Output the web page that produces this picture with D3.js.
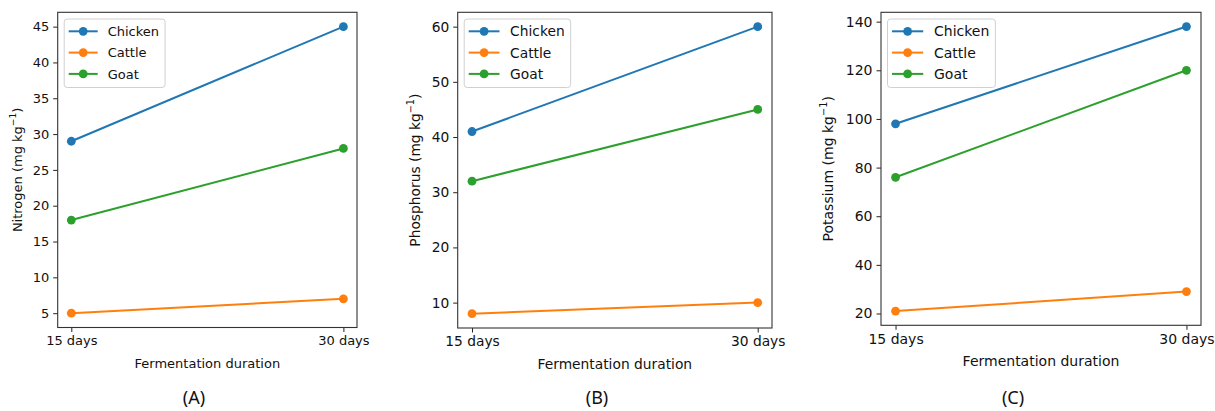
<!DOCTYPE html>
<html>
<head>
<meta charset="utf-8">
<script src="https://cdn.jsdelivr.net/npm/d3@7"></script>
<style>
  body { margin: 0; background: #fff; }
  svg { display: block; }
  text { font-family: "DejaVu Sans", sans-serif; fill: #111; }
</style>
</head>
<body>
<svg id="chart" width="1215" height="411"></svg>
<script>
// data
const durations = ["15 days", "30 days"];
const animals = ["Chicken", "Cattle", "Goat"];
const colors = ["#1f77b4", "#ff7f0e", "#2ca02c"];

const nitrogen = [[29, 45], [5, 7], [18, 28]];
const phosphorus = [[41, 60], [8, 10], [32, 45]];
const potassium = [[98, 138], [21, 29], [76, 120]];

const nitrogenTicks = [5, 10, 15, 20, 25, 30, 35, 40, 45];
const phosphorusTicks = [10, 20, 30, 40, 50, 60];
const potassiumTicks = [20, 40, 60, 80, 100, 120, 140];

// layout of the three panels (pixels)
const panels = [
    { values: nitrogen, ticks: nitrogenTicks, name: "Nitrogen", letter: "(A)",
      left: 57.7, right: 357, top: 12.3, bottom: 327.5, fs: 13,
      ylabelX: 17, xlabelY: 368, letterX: 194 },
    { values: phosphorus, ticks: phosphorusTicks, name: "Phosphorus", letter: "(B)",
      left: 457.7, right: 772, top: 12.3, bottom: 328, fs: 13.8,
      ylabelX: 415, xlabelY: 369, letterX: 597 },
    { values: potassium, ticks: potassiumTicks, name: "Potassium", letter: "(C)",
      left: 881, right: 1201, top: 12.3, bottom: 325.3, fs: 14,
      ylabelX: 828, xlabelY: 366, letterX: 1013 }
];

const svg = d3.select("#chart");

function drawPanel(p) {
    let g = svg.append("g");

    // matplotlib style 5% margins
    let all = p.values.flat();
    let lo = d3.min(all), hi = d3.max(all);
    let pad = (hi - lo) * 0.05;

    let x = d3.scalePoint()
        .domain(durations)
        .range([p.left, p.right])
        .padding(0.05);

    let y = d3.scaleLinear()
        .domain([lo - pad, hi + pad])
        .range([p.bottom, p.top]);

    // y axis
    let yAxis = g.append("g")
        .attr("transform", "translate(" + p.left + ",0)")
        .call(d3.axisLeft(y).tickValues(p.ticks).tickSize(4.5).tickPadding(4));
    // x axis
    let xAxis = g.append("g")
        .attr("transform", "translate(0," + p.bottom + ")")
        .call(d3.axisBottom(x).tickSize(4.5).tickPadding(4));

    [yAxis, xAxis].forEach(a => {
        a.select(".domain").remove();
        a.selectAll(".tick line").attr("stroke", "#222").attr("stroke-width", 1);
        a.selectAll(".tick text")
            .style("font-family", "DejaVu Sans")
            .style("font-size", p.fs + "px")
            .attr("fill", "#111");
    });

    // frame
    g.append("rect")
        .attr("x", p.left).attr("y", p.top)
        .attr("width", p.right - p.left).attr("height", p.bottom - p.top)
        .attr("fill", "none").attr("stroke", "#333").attr("stroke-width", 1.1);

    // lines
    let line = d3.line()
        .x((d, i) => x(durations[i]))
        .y(d => y(d));

    p.values.forEach((vals, k) => {
        g.append("path")
            .attr("d", line(vals))
            .attr("fill", "none")
            .attr("stroke", colors[k])
            .attr("stroke-width", 2);
        g.selectAll(null)
            .data(vals)
            .enter()
            .append("circle")
            .attr("cx", (d, i) => x(durations[i]))
            .attr("cy", d => y(d))
            .attr("r", 4.4)
            .attr("fill", colors[k]);
    });

    // legend
    let lx = p.left + 6.5, ly = p.top + 6.7;
    let leg = g.append("g");
    let box = leg.append("rect")
        .attr("x", lx).attr("y", ly)
        .attr("rx", 3).attr("ry", 3)
        .attr("height", 68.5)
        .attr("fill", "#fff").attr("fill-opacity", 0.8)
        .attr("stroke", "#d0d0d0").attr("stroke-width", 1);
    let maxW = 0;
    animals.forEach((name, k) => {
        let cy = ly + 12.3 + k * 21.3;
        leg.append("line")
            .attr("x1", lx + 4.5).attr("x2", lx + 4.5 + 29 * p.fs / 13)
            .attr("y1", cy).attr("y2", cy)
            .attr("stroke", colors[k]).attr("stroke-width", 2);
        leg.append("circle")
            .attr("cx", lx + 4.5 + 14.5 * p.fs / 13).attr("cy", cy)
            .attr("r", 4.4).attr("fill", colors[k]);
        let t = leg.append("text")
            .attr("x", lx + 4.5 + 39 * p.fs / 13).attr("y", cy)
            .attr("dy", "0.36em")
            .style("font-size", p.fs + "px")
            .text(name);
        maxW = Math.max(maxW, t.node().getComputedTextLength());
    });
    box.attr("width", 4.5 + 39 * p.fs / 13 + maxW + 6);

    // axis labels
    g.append("text")
        .attr("x", (p.left + p.right) / 2)
        .attr("y", p.xlabelY)
        .attr("text-anchor", "middle")
        .style("font-size", p.fs + "px")
        .text("Fermentation duration");

    let yl = g.append("text")
        .attr("transform", "translate(" + p.ylabelX + "," + ((p.top + p.bottom) / 2) + ") rotate(-90)")
        .attr("text-anchor", "middle")
        .attr("dy", "0.36em")
        .style("font-size", p.fs + "px");
    yl.append("tspan").text(p.name + " (mg kg");
    yl.append("tspan").attr("dy", -0.4 * p.fs).style("font-size", (p.fs * 0.7) + "px").text("\u22121");
    yl.append("tspan").attr("dy", 0.4 * p.fs).text(")");

    // panel letter
    g.append("text")
        .attr("x", p.letterX)
        .attr("y", 404)
        .attr("text-anchor", "middle")
        .style("font-family", "'Noto Sans', sans-serif")
        .style("font-size", "18px")
        .text(p.letter);
}

panels.forEach(drawPanel);
</script>
</body>
</html>
